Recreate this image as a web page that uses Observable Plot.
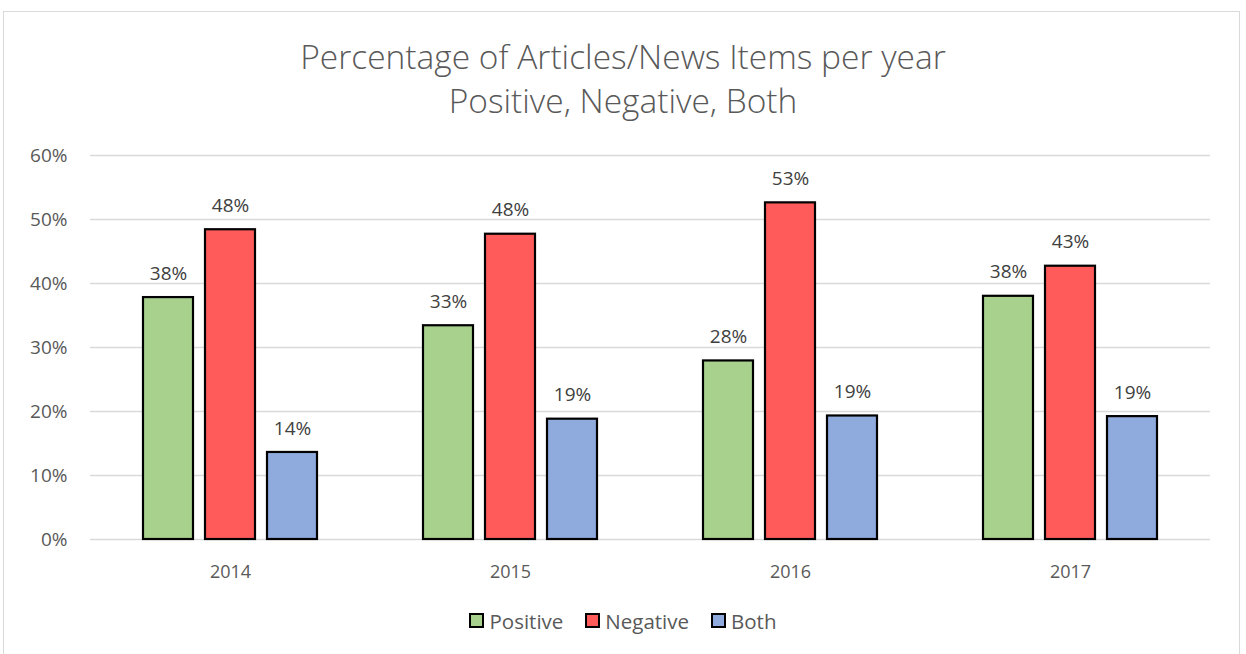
<!DOCTYPE html>
<html>
<head>
<meta charset="utf-8">
<script src="https://cdn.jsdelivr.net/npm/d3@7"></script>
<script src="https://cdn.jsdelivr.net/npm/@observablehq/plot@0.6"></script>
<style>
  html, body { margin: 0; padding: 0; background: #fff; width: 1246px; height: 654px; overflow: hidden; }
  body { position: relative; font-family: "Open Sans", Lato, sans-serif; }
  #frame { position: absolute; left: 3px; top: 11px; width: 1237px; height: 700px; border: 1.5px solid #d9d9d9; box-sizing: border-box; }
  #title { position: absolute; left: 0; width: 1246px; top: 34px; text-align: center; color: #595959; font-family: "Open Sans", sans-serif; font-size: 33.5px; font-weight: 300; line-height: 44px; letter-spacing: 0px; }
  #chart { position: absolute; left: 0; top: 130px; }
  #legend { position: absolute; left: 0; width: 1246px; top: 606px; text-align: center; color: #595959; font-size: 20.5px; line-height: 28px; }
  .item { display: inline-flex; align-items: center; margin: 0 11px; }
  .sw { width: 11px; height: 11px; border: 2px solid #000; margin-right: 5px; display: inline-block; }
</style>
</head>
<body>
<div id="frame"></div>
<div id="title">Percentage of Articles/News Items per year<br>Positive, Negative, Both</div>
<div id="chart"></div>
<div id="legend"></div>
<script>
const years = ["2014", "2015", "2016", "2017"];
const types = ["Positive", "Negative", "Both"];
const positive = [37.8, 33.4, 27.9, 38.0];
const negative = [48.4, 47.7, 52.6, 42.7];
const both = [13.6, 18.8, 19.3, 19.2];
const colors = ["#a9d18e", "#ff5b5b", "#8faadc"];
const yTicks = [0, 10, 20, 30, 40, 50, 60];

const series = [positive, negative, both];
const data = [];
years.forEach((yr, i) => {
  types.forEach((t, j) => data.push({year: yr, type: t, value: series[j][i]}));
});

const plot = Plot.plot({
  width: 1246,
  height: 470,
  marginTop: 25,
  marginBottom: 61,
  marginLeft: 88,
  marginRight: 35,
  style: {fontFamily: "'Open Sans', sans-serif", fontSize: "18px", color: "#595959", background: "transparent"},
  fx: {domain: years, paddingInner: 0, paddingOuter: 0, label: null},
  x: {domain: types, paddingInner: 0.2, paddingOuter: 0.845, axis: null},
  y: {domain: [0, 60], label: null},
  color: {domain: types, range: colors},
  marks: [
    Plot.ruleY(yTicks, {stroke: "#d9d9d9", strokeWidth: 1.5, strokeOpacity: 1}),
    Plot.axisY(yTicks, {tickFormat: d => d + "%", tickSize: 0, tickPadding: 23, fontSize: 19, fill: "#595959", label: null}),
    Plot.axisFx({anchor: "bottom", tickSize: 0, tickPadding: 26, fontSize: 18, fill: "#595959", label: null}),
    Plot.barY(data, {fx: "year", x: "type", y: "value", fill: "type", stroke: "#000", strokeWidth: 2.2}),
    Plot.text(data, {fx: "year", x: "type", y: "value", text: d => Math.round(d.value) + "%", dy: -24, fill: "#404040", fontSize: 19})
  ]
});
document.getElementById("chart").appendChild(plot);

const legend = document.getElementById("legend");
types.forEach((t, i) => {
  const s = document.createElement("span");
  s.className = "item";
  s.innerHTML = `<span class="sw" style="background:${colors[i]}"></span>${t}`;
  legend.appendChild(s);
});
</script>
</body>
</html>
